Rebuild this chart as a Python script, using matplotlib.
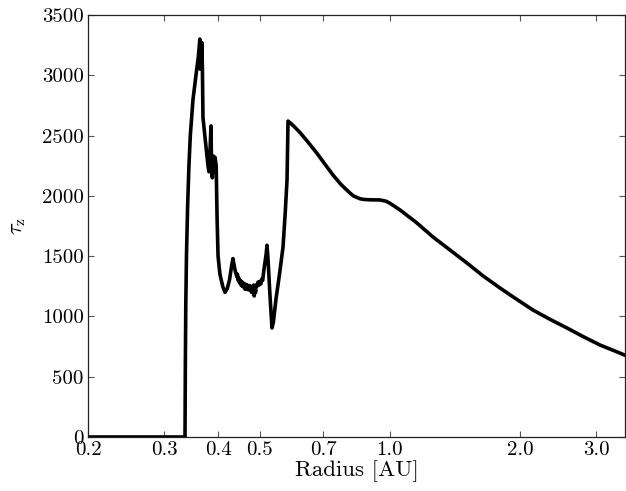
import matplotlib
matplotlib.use("Agg")
import matplotlib.pyplot as plt
from matplotlib.ticker import FixedLocator, FixedFormatter, NullLocator

plt.rcParams['font.family'] = 'serif'
plt.rcParams['font.serif'] = ['cmr10', 'DejaVu Serif']
plt.rcParams['mathtext.fontset'] = 'cm'
plt.rcParams['axes.formatter.use_mathtext'] = True

radius = [0.20, 0.3354, 0.3360, 0.3368, 0.3380, 0.3400, 0.3425, 0.3450, 0.3500,
          0.3556, 0.3600, 0.3630, 0.3640, 0.3650, 0.3660, 0.3670, 0.3680, 0.3691,
          0.3740, 0.3791, 0.3810, 0.3830, 0.3852, 0.3865, 0.3880, 0.3900, 0.3920,
          0.3935, 0.3960, 0.3980, 0.4000, 0.4040, 0.4100, 0.4151, 0.4200, 0.4250,
          0.4300, 0.4331, 0.4350, 0.4370, 0.4395, 0.4420, 0.4435, 0.4450, 0.4465,
          0.4480, 0.4500, 0.4520, 0.4535, 0.4550, 0.4570, 0.4590, 0.4605, 0.4620,
          0.4640, 0.4660, 0.4680, 0.4700, 0.4720, 0.4741, 0.4760, 0.4780, 0.4800,
          0.4820, 0.4835, 0.4850, 0.4870, 0.4885, 0.4900, 0.4925, 0.4950, 0.4975,
          0.5000, 0.5025, 0.5050, 0.5075, 0.5100, 0.5137, 0.5170, 0.5192, 0.5220,
          0.5270, 0.5332, 0.5370, 0.5450, 0.5550, 0.5655, 0.5720, 0.5777, 0.5808,
          0.5900, 0.6000, 0.6190, 0.6480, 0.6776, 0.7080, 0.7390, 0.7700, 0.7940,
          0.8100, 0.8225, 0.8370, 0.8520, 0.8700, 0.9000, 0.9480, 0.9800, 1.0000,
          1.0550, 1.1500, 1.2575, 1.3770, 1.5070, 1.6440, 1.7970, 1.9650, 2.1430,
          2.3460, 2.5690, 2.8030, 3.0630, 3.3480, 3.5000]
tau_z = [0, 0, 600, 1100, 1500, 1900, 2250, 2500, 2800,
         3000, 3150, 3300, 3050, 3270, 3100, 3270, 3050, 2650,
         2450, 2250, 2200, 2350, 2580, 2200, 2150, 2330, 2200,
         2320, 2250, 1800, 1500, 1350, 1250, 1200, 1230, 1300,
         1420, 1480, 1440, 1400, 1360, 1330, 1350, 1300, 1320,
         1280, 1300, 1260, 1290, 1250, 1280, 1240, 1270, 1225,
         1265, 1230, 1260, 1220, 1255, 1230, 1250, 1200, 1245,
         1215, 1260, 1170, 1235, 1200, 1260, 1250, 1285, 1260,
         1290, 1270, 1310, 1300, 1370, 1450, 1520, 1590, 1480,
         1200, 904, 950, 1150, 1350, 1576, 1850, 2132, 2620,
         2600, 2575, 2525, 2440, 2353, 2260, 2170, 2095, 2049,
         2020, 2000, 1988, 1976, 1970, 1967, 1966, 1955, 1938,
         1883, 1780, 1659, 1551, 1443, 1335, 1236, 1142, 1053,
         976, 904, 832, 763, 707, 678]

xticks = [0.2, 0.3, 0.4, 0.5, 0.7, 1.0, 2.0, 3.0]
xticklabels = ["0.2", "0.3", "0.4", "0.5", "0.7", "1.0", "2.0", "3.0"]
yticks = [0, 500, 1000, 1500, 2000, 2500, 3000, 3500]

fig = plt.figure(figsize=(6.26, 4.91), dpi=100)
ax = fig.add_axes([0.1406, 0.110, 0.8578, 0.8595])
ax.plot(radius, tau_z, color='black', lw=2.6, solid_joinstyle='round')
ax.set_xscale('log')
ax.set_xlim(0.2, 3.5)
ax.set_ylim(0, 3500)
ax.xaxis.set_major_locator(FixedLocator(xticks))
ax.xaxis.set_major_formatter(FixedFormatter(xticklabels))
ax.xaxis.set_minor_locator(NullLocator())
ax.set_yticks(yticks)
ax.set_yticklabels([str(v) for v in yticks])
ax.tick_params(direction='in', top=True, right=True, length=4, width=0.8,
               color='#555555', labelsize=15, pad=3)
for s in ax.spines.values():
    s.set_linewidth(0.9)
    s.set_color('#222222')
ax.set_xlabel('Radius [AU]', fontsize=16.5, labelpad=1)
ax.set_ylabel(r'$\tau_{\rm z}$', fontsize=16, labelpad=10)
fig.savefig('out.png', dpi=100)
